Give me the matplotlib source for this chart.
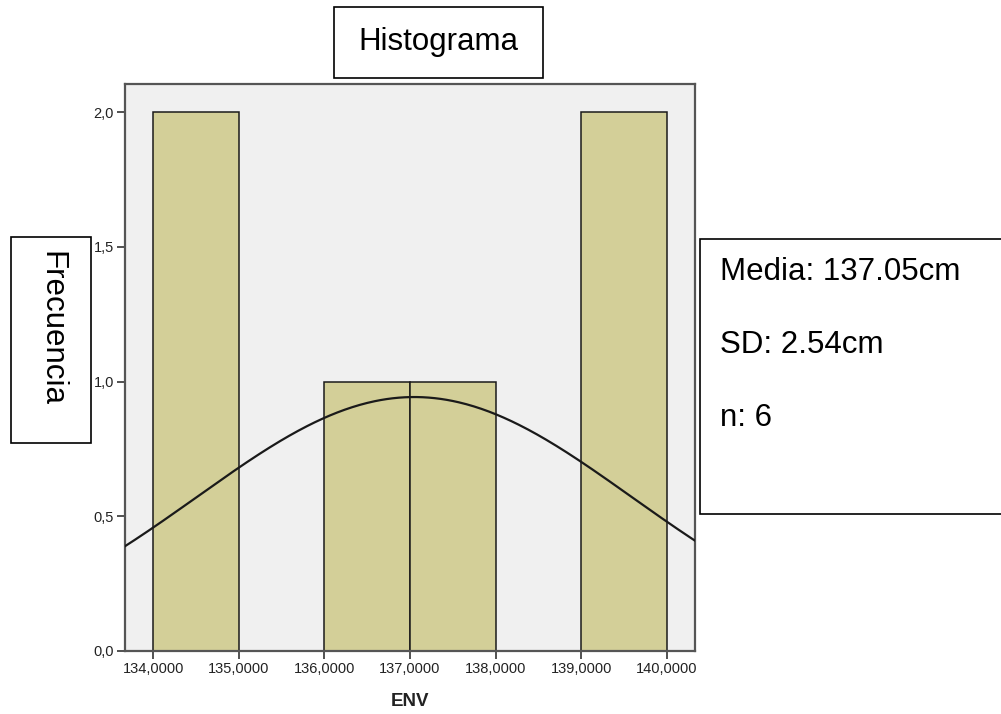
import numpy as np
import matplotlib
matplotlib.use("Agg")
import matplotlib.pyplot as plt
from matplotlib.patches import Rectangle

# ENV (cm), histograma con intervalos de 1 cm
bin_edges = [134, 135, 136, 137, 138, 139, 140]
frecuencias = [2, 0, 1, 1, 0, 2]
x_ticks = [134, 135, 136, 137, 138, 139, 140]
y_ticks = [0.0, 0.5, 1.0, 1.5, 2.0]

media = 137.05
sd = 2.54
n = 6

W, H = 1001, 714
plt.rcParams["font.family"] = ["Liberation Sans", "DejaVu Sans"]

fig = plt.figure(figsize=(W / 100, H / 100), dpi=100)


def px_box(x0, y0, x1, y1):
    # pixeles (origen arriba a la izquierda) -> fracciones de figura
    return [x0 / W, 1 - y1 / H, (x1 - x0) / W, (y1 - y0) / H]


ax = fig.add_axes(px_box(125, 84, 695, 651))
ax.set_facecolor("#f0f0f0")

anchos = np.diff(bin_edges)
ax.bar(bin_edges[:-1], frecuencias, width=anchos, align="edge",
       color="#d3cf98", edgecolor="#1a1a1a", linewidth=1.1, zorder=2)

# curva normal ajustada, escalada a frecuencias
xs = np.linspace(133.5, 140.5, 400)
ys = n * 1.0 / (sd * np.sqrt(2 * np.pi)) * np.exp(-(xs - media) ** 2 / (2 * sd ** 2))
ax.plot(xs, ys, color="#1a1a1a", linewidth=1.6, zorder=3)

ax.set_xlim(133.67, 140.33)
ax.set_ylim(0, 2.104)
ax.set_xticks(x_ticks)
ax.set_xticklabels([f"{v:.4f}".replace(".", ",") for v in x_ticks])
ax.set_yticks(y_ticks)
ax.set_yticklabels([f"{v:.1f}".replace(".", ",") for v in y_ticks])
ax.tick_params(axis="both", direction="out", length=6, width=1.2,
               color="#333333", labelsize=10.5, labelcolor="#222222", pad=2)
for s in ax.spines.values():
    s.set_color("#555555")
    s.set_linewidth(1.6)

fig.text(410 / W, 1 - 702 / H, "ENV", ha="center", va="center",
         fontsize=13.5, fontweight="bold", color="#222222")

# cajas de texto
def caja(x0, y0, x1, y1):
    fig.patches.append(Rectangle((px_box(x0, y0, x1, y1)[0], px_box(x0, y0, x1, y1)[1]),
                                 (x1 - x0) / W, (y1 - y0) / H, transform=fig.transFigure,
                                 facecolor="white", edgecolor="black", linewidth=1.2))


caja(334, 7, 543, 78)
fig.text(438 / W, 1 - 42 / H, "Histograma", ha="center", va="center", fontsize=22.5)

caja(11, 237, 91, 443)
fig.text(51 / W, 1 - 329 / H, "Frecuencia", ha="center", va="center",
         rotation=270, fontsize=22.5)

caja(700, 239, 1005, 514)
stats = [f"Media: {media:.2f}cm", f"SD: {sd:.2f}cm", f"n: {n}"]
for i, linea in enumerate(stats):
    fig.text(720 / W, 1 - (280 + 73 * i) / H, linea, ha="left", va="baseline",
             fontsize=22.5)

fig.savefig("out.png", dpi=100)
